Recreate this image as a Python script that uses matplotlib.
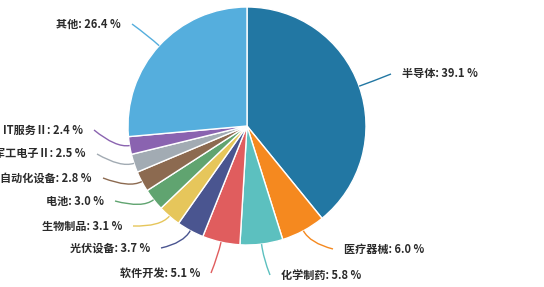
import matplotlib
matplotlib.use("Agg")
import numpy as np
import matplotlib.pyplot as plt
from matplotlib.path import Path
from matplotlib.patches import PathPatch

plt.rcParams['font.family'] = ['Noto Sans CJK SC', 'DejaVu Sans']

names = ['半导体', '医疗器械', '化学制药', '软件开发', '光伏设备', '生物制品',
         '电池', '自动化设备', '军工电子Ⅱ', 'IT服务Ⅱ', '其他']
shares = [39.1, 6.0, 5.8, 5.1, 3.7, 3.1, 3.0, 2.8, 2.5, 2.4, 26.4]
colors = ['#2277a3', '#f5891f', '#5cc0bf', '#e05d5e', '#4a5590', '#e6c65b',
          '#60a470', '#8c6a50', '#a2abb3', '#8a63b0', '#55aedd']

# layout (pixel coords, y down): end of leader line for each label
line_end = [(391, 74), (333, 249), (270, 275), (211, 273), (161, 248), (133, 226),
            (115, 201), (103, 178), (97, 154), (94, 130), (132, 24)]

W, H = 544, 287
cx, cy, R = 247, 126, 119

fig = plt.figure(figsize=(W / 100, H / 100), dpi=100)
ax = fig.add_axes([0, 0, 1, 1])

wedges, _ = ax.pie(shares, colors=colors, startangle=90, counterclock=False,
                   radius=R, center=(cx, H - cy),
                   wedgeprops=dict(edgecolor='white', linewidth=1))
ax.set_xlim(0, W)
ax.set_ylim(0, H)
ax.set_aspect('equal')
ax.axis('off')

for w, name, val, col, (ex, ey) in zip(wedges, names, shares, colors, line_end):
    a = np.deg2rad((w.theta1 + w.theta2) / 2)
    p0 = (cx + R * np.cos(a), H - cy + R * np.sin(a))
    p1 = (cx + (R + 14) * np.cos(a), H - cy + (R + 14) * np.sin(a))
    p2 = (ex, H - ey)
    path = Path([p0, p1, p2], [Path.MOVETO, Path.CURVE3, Path.CURVE3])
    ax.add_patch(PathPatch(path, fc='none', ec=col, lw=1))
    right = ex > cx
    tx = ex + 11 if right else ex - 11
    ax.text(tx, H - ey, f'{name}: {val:.1f} %', fontsize=8, color='#2a2a2a',
            fontweight='bold', ha='left' if right else 'right', va='center')

fig.savefig('out.png', dpi=100)
